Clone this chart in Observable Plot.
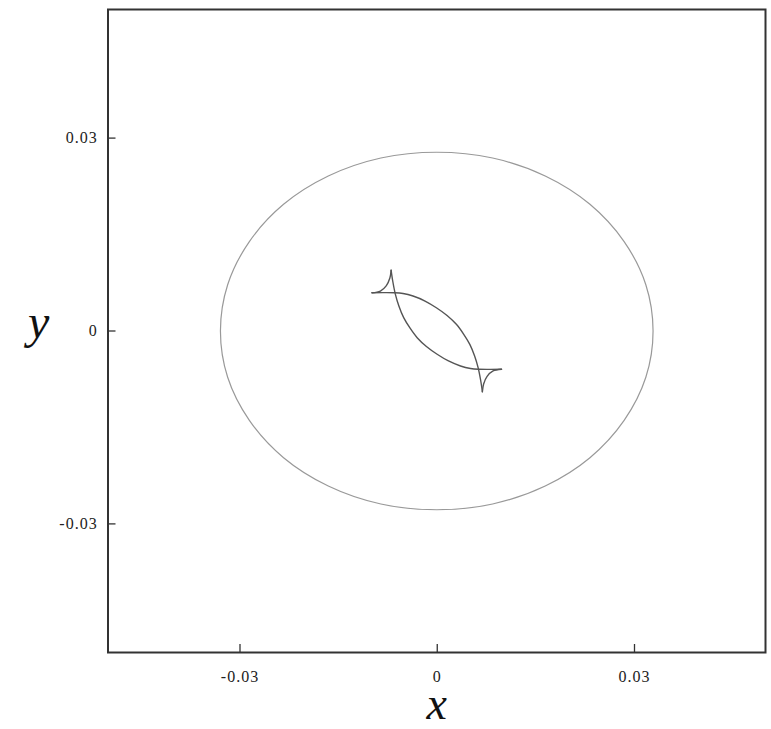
<!DOCTYPE html>
<html>
<head>
<meta charset="utf-8">
<script src="https://cdn.jsdelivr.net/npm/d3@7"></script>
<script src="https://cdn.jsdelivr.net/npm/@observablehq/plot@0.6"></script>
<style>
  html, body { margin: 0; padding: 0; background: #fff; }
  #chart svg { display: block; }
  #chart svg g[aria-label="x-axis tick label"] text,
  #chart svg g[aria-label="y-axis tick label"] text { letter-spacing: 1px; }
</style>
</head>
<body>
<div id="chart"></div>
<script>
// Tick values
const xTicks = [-0.03, 0, 0.03];
const yTicks = [-0.03, 0, 0.03];
const tickLabels = ["-0.03", "0", "0.03"];

// Outer closed curve (ellipse)
const ellipseX = [0.0329, 0.0318, 0.0285, 0.0233, 0.0165, 0.0085, 0, -0.0085, -0.0165, -0.0233, -0.0285, -0.0318,
                  -0.0329, -0.0318, -0.0285, -0.0233, -0.0165, -0.0085, 0, 0.0085, 0.0165, 0.0233, 0.0285, 0.0318];
const ellipseY = [0, 0.0072, 0.0139, 0.0197, 0.0241, 0.0269, 0.0278, 0.0269, 0.0241, 0.0197, 0.0139, 0.0072,
                  0, -0.0072, -0.0139, -0.0197, -0.0241, -0.0269, -0.0278, -0.0269, -0.0241, -0.0197, -0.0139, -0.0072];

// Inner caustic: four arcs joined at cusps
const arcTopLeftX = [-0.00694, -0.00713, -0.00766, -0.00857, -0.00985];
const arcTopLeftY = [0.00944, 0.00824, 0.00707, 0.00622, 0.00595];

const arcLowerX = [-0.00694, -0.00667, -0.00629, -0.00576, -0.00503, -0.00408, -0.00298, -0.00157, 0.00006, 0.00178, 0.00361, 0.00513, 0.00640, 0.00818, 0.00985];
const arcLowerY = [0.00944, 0.00762, 0.00570, 0.00389, 0.00207, 0.00047, -0.00104, -0.00241, -0.00362, -0.00466, -0.00544, -0.00583, -0.00595, -0.00597, -0.00595];

const arcUpperX = [-0.00985, -0.00818, -0.00640, -0.00513, -0.00361, -0.00178, -0.00006, 0.00157, 0.00298, 0.00408, 0.00503, 0.00576, 0.00629, 0.00667, 0.00694];
const arcUpperY = [0.00595, 0.00597, 0.00595, 0.00583, 0.00544, 0.00466, 0.00362, 0.00241, 0.00104, -0.00047, -0.00207, -0.00389, -0.00570, -0.00762, -0.00944];

const arcBottomRightX = [0.00985, 0.00857, 0.00766, 0.00713, 0.00694];
const arcBottomRightY = [-0.00595, -0.00622, -0.00707, -0.00824, -0.00944];

const ellipse = ellipseX.map((x, i) => ({x, y: ellipseY[i]}));
const arcs = [
  ["a", arcTopLeftX, arcTopLeftY],
  ["b", arcLowerX, arcLowerY],
  ["c", arcUpperX, arcUpperY],
  ["d", arcBottomRightX, arcBottomRightY]
].flatMap(([id, xs, ys]) => xs.map((x, i) => ({id, x, y: ys[i]})));

const fmt = d => tickLabels[xTicks.indexOf(d)];

const chart = Plot.plot({
  width: 771,
  height: 729,
  marginLeft: 107.5,
  marginRight: 6,
  marginTop: 9,
  marginBottom: 77,
  style: {fontFamily: "'Liberation Serif', 'Times New Roman', serif", fontSize: "16px", color: "#222", background: "#fff"},
  x: {domain: [-0.05, 0.05]},
  y: {domain: [-0.05, 0.05]},
  marks: [
    Plot.line(ellipse, {x: "x", y: "y", curve: "catmull-rom-closed", stroke: "#999", strokeWidth: 1.2}),
    Plot.line(arcs, {x: "x", y: "y", z: "id", curve: "catmull-rom", stroke: "#555", strokeWidth: 1.4}),
    Plot.frame({stroke: "#333", strokeWidth: 2}),
    Plot.axisX({ticks: xTicks, tickFormat: fmt, tickSize: -8, tickPadding: 26.5, stroke: "#333", strokeWidth: 1.3, label: null, fontSize: 16, dx: 0.5}),
    Plot.axisY({ticks: yTicks, tickFormat: fmt, tickSize: -8, tickPadding: 18.3, stroke: "#333", strokeWidth: 1.3, label: null, fontSize: 16}),
    Plot.text(["x"], {frameAnchor: "bottom", dy: 66, text: d => d, fontSize: 46, fontStyle: "italic", fontFamily: "'Liberation Serif', serif", fill: "#111"}),
    Plot.text(["y"], {frameAnchor: "left", dx: -80, dy: -8, text: d => d, fontSize: 48, fontStyle: "italic", fontFamily: "'Liberation Serif', serif", fill: "#111"})
  ]
});
document.getElementById("chart").appendChild(chart);
</script>
</body>
</html>
